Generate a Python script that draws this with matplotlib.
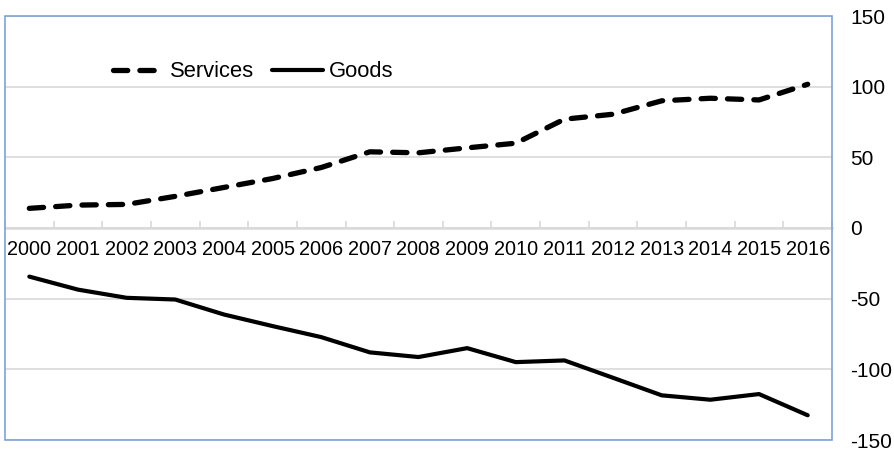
import matplotlib
matplotlib.use("Agg")
import matplotlib.pyplot as plt
from matplotlib.patches import Rectangle
import numpy as np

plt.rcParams['font.family'] = ['Liberation Sans', 'DejaVu Sans']

years = [str(y) for y in range(2000, 2017)]
services = [13.9, 16.2, 16.7, 22.4, 28.7, 35.0, 42.8, 53.9, 53.2, 56.7, 60.0,
            77.0, 80.5, 90.0, 91.8, 90.6, 101.7]
goods = [-34.4, -43.6, -49.4, -50.6, -61.2, -69.4, -77.2, -88.0, -91.3, -85.0, -94.9,
         -93.7, -106.0, -118.4, -121.5, -117.5, -132.5]
yticks = [-150, -100, -50, 0, 50, 100, 150]

border = '#7ba3d6'
grid = '#d9d9d9'

fig = plt.figure(figsize=(8.94, 4.53), dpi=100)
ax = fig.add_axes([5 / 894, 1 - 440 / 453, 827 / 894, 424 / 453])

x = np.arange(len(years))
ax.plot(x, services, color='black', lw=3.8, dashes=(2.7, 2.3),
        dash_capstyle='round', solid_capstyle='round', label='Services', zorder=3)
ax.plot(x, goods, color='black', lw=3.0, solid_capstyle='round',
        solid_joinstyle='round', label='Goods', zorder=3)

ax.set_xlim(-0.5, len(years) - 0.5)
ax.set_ylim(-150, 150)

# y axis on the right, no tick marks
ax.yaxis.tick_right()
ax.set_yticks(yticks)
ax.set_yticklabels([str(v) for v in yticks])
ax.tick_params(axis='y', length=0, pad=13, labelsize=15)
ax.yaxis.grid(True, color=grid, lw=1.2)
ax.set_axisbelow(True)

# category axis through zero
ax.spines['bottom'].set_position(('data', 0))
ax.spines['bottom'].set_color(grid)
ax.spines['bottom'].set_linewidth(1.8)
for s in ['top', 'left', 'right']:
    ax.spines[s].set_visible(False)
ax.set_xticks(x)
ax.set_xticklabels(years)
ax.set_xticks(np.arange(-0.5, len(years)), minor=True)
ax.tick_params(axis='x', which='major', length=0, pad=9, labelsize=14.3)
ax.tick_params(axis='x', which='minor', direction='in', length=5, color=grid, width=1.2)

ax.add_patch(Rectangle((0, 0), 1, 1, transform=ax.transAxes, fill=False,
                       edgecolor=border, lw=1.2, clip_on=False, zorder=5))

ax.legend(loc='center left', bbox_to_anchor=(0.131, 0.868), ncol=2, frameon=False,
          fontsize=15.8, handlelength=2.3, handletextpad=0.3, columnspacing=0.8,
          borderpad=0, borderaxespad=0)

fig.savefig('out.png', dpi=100)
